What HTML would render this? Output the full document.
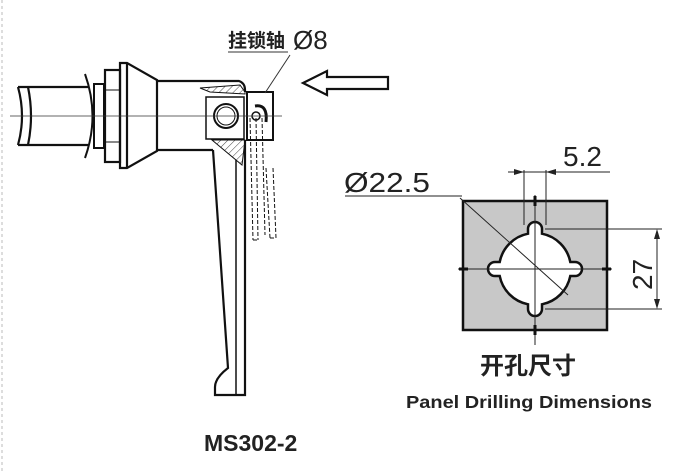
<!DOCTYPE html>
<html><head><meta charset="utf-8"><style>
body{margin:0;background:#fff;width:695px;height:474px;overflow:hidden}
svg{display:block}
text{font-family:"Liberation Sans","Noto Sans CJK SC",sans-serif;fill:#222}
</style></head><body>
<svg width="695" height="474" viewBox="0 0 695 474">
<defs>
<pattern id="h" width="5" height="5" patternUnits="userSpaceOnUse" patternTransform="rotate(45)"><line x1="0" y1="0" x2="0" y2="5" stroke="#444" stroke-width="1"/></pattern>
</defs>
<line x1="2" y1="0" x2="2" y2="474" stroke="#bbb" stroke-dasharray="3,3"/>
<g stroke="#111" fill="none" stroke-width="2.2">
<path d="M18 87 L88 87 M18 145 L88 145 M18 87 Q26 116 18 145 M28 87 Q34 116 28 145"/>
<path d="M85 74 Q100 116 85 158" stroke-width="2"/>
<rect x="94" y="84" width="10" height="64" stroke-width="2"/>
<rect x="105" y="70" width="15" height="92"/>
<line x1="105" y1="90" x2="120" y2="90" stroke-width="1"/><line x1="105" y1="142" x2="120" y2="142" stroke-width="1"/>
<path d="M120 63 L127 63 L157 80 L157 151 L127 168 L120 168 Z"/>
<line x1="127" y1="63" x2="127" y2="168"/>
<path d="M157 81 L239 81 Q245 83 245 90 L245 92 M157 150 L213 150"/>
<path d="M200 88 L240 85 L245 92 L245 94 L210 92 Z" fill="url(#h)" stroke-width="1"/>
<path d="M212 140 L245 140 L242 165 Z" fill="url(#h)" stroke-width="1"/>
<rect x="206" y="97" width="38" height="42" stroke-width="1.5"/>
<circle cx="226" cy="116" r="12" stroke-width="2"/>
<circle cx="226" cy="116" r="9" stroke-width="1"/>
<rect x="247" y="92" width="26" height="48" stroke-width="2"/>
<path d="M255 106 Q268 104 266 122" stroke-width="3"/>
<circle cx="256" cy="116" r="4" stroke-width="1.5"/>
<path d="M213 150 L228 368 Q215 378 215 387 L215 395 L245 395 L245 140"/>
<line x1="236" y1="160" x2="236" y2="395" stroke-width="1.5"/>
<g stroke-width="1" stroke-dasharray="4,2">
<path d="M250 118 L253 240 M256 118 L258 240 M262 118 L265 235 M266 168 L270 238 M273 168 L276 238 M253 240 L258 240 M270 238 L276 238"/>
</g>
</g>
<line x1="10" y1="116" x2="282" y2="116" stroke="#333" stroke-width="0.8"/>
<text x="228" y="47" font-size="19" font-weight="bold">挂锁轴</text>
<text x="293" y="49" font-size="26">Ø8</text>
<line x1="228" y1="52" x2="288" y2="52" stroke="#333" stroke-width="1"/>
<line x1="290" y1="55" x2="265" y2="93" stroke="#333" stroke-width="1"/>
<path d="M303 83 L327 71 L327 77 L388 77 L388 89 L327 89 L327 95 Z" fill="none" stroke="#111" stroke-width="2.2"/>
<rect x="463" y="201" width="144" height="129" fill="#c8c8c8" stroke="#111" stroke-width="2.5"/>
<path d="M528 233.7 L528 229 A7 7 0 0 1 542 229 L542 233.7 A36 36 0 0 1 570.3 262 L575 262 A7 7 0 0 1 575 276 L570.3 276 A36 36 0 0 1 542 304.3 L542 309 A7 7 0 0 1 528 309 L528 304.3 A36 36 0 0 1 499.7 276 L495 276 A7 7 0 0 1 495 262 L499.7 262 A36 36 0 0 1 528 233.7 Z" fill="#fff" stroke="#111" stroke-width="2.5"/>
<g stroke="#222" stroke-width="1">
<line x1="535" y1="195" x2="535" y2="345"/>
<line x1="458" y1="269" x2="612" y2="269"/>
<line x1="345" y1="196" x2="462" y2="196"/>
<line x1="460" y1="198" x2="568" y2="295"/>
<line x1="524" y1="170" x2="524" y2="225"/><line x1="546" y1="170" x2="546" y2="225"/>
<line x1="508" y1="172" x2="610" y2="172"/>
<line x1="545" y1="229" x2="662" y2="229"/><line x1="545" y1="309" x2="662" y2="309"/>
<line x1="657" y1="231" x2="657" y2="307"/>
</g>
<path d="M524 172 l-10 -3 v6Z M546 172 l10 -3 v6Z M657 229 l-3 10 h6Z M657 309 l-3 -10 h6Z" fill="#222"/>
<g stroke="#111" stroke-width="3"><line x1="535" y1="196" x2="535" y2="206"/><line x1="535" y1="325" x2="535" y2="335"/><line x1="459" y1="269" x2="468" y2="269"/><line x1="602" y1="269" x2="611" y2="269"/></g>
<text x="344" y="192" font-size="28" textLength="86" lengthAdjust="spacingAndGlyphs">Ø22.5</text>
<text x="563" y="166" font-size="28">5.2</text>
<text x="0" y="0" font-size="28" transform="translate(652,290) rotate(-90)">27</text>
<text x="480" y="374" font-size="24" font-weight="bold">开孔尺寸</text>
<text x="406" y="408" font-size="17.5" font-weight="bold" textLength="246" lengthAdjust="spacingAndGlyphs">Panel Drilling Dimensions</text>
<text x="204" y="451" font-size="23" font-weight="bold">MS302-2</text>
</svg>
</body></html>
